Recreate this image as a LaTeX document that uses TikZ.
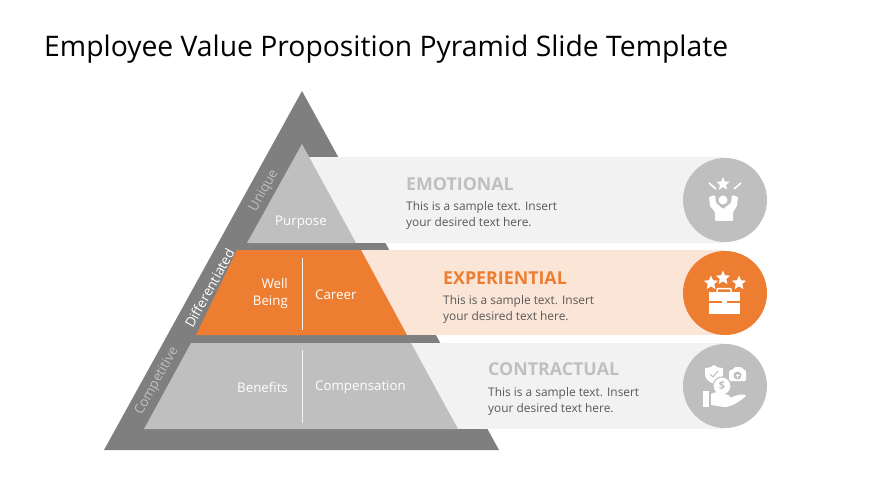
\documentclass[tikz,border=0pt]{standalone}
\usepackage{fontspec}
\setmainfont{Open Sans}
\usetikzlibrary{calc,positioning,shapes.geometric}

\definecolor{darkgray}{HTML}{7F7F7F}
\definecolor{midgray}{HTML}{BFBFBF}
\definecolor{palegray}{HTML}{F2F2F2}
\definecolor{accent}{HTML}{ED7D31}
\definecolor{paleaccent}{HTML}{FBE5D6}
\definecolor{bodytext}{HTML}{595959}

\tikzset{
    badge/.style={circle, minimum size=84pt, inner sep=0pt},
    head/.style={font=\fontsize{17.8}{19}\selectfont\bfseries, anchor=west, inner sep=0pt},
    body/.style={font=\fontsize{11.9}{16}\selectfont, text=bodytext, anchor=north west, align=left, inner sep=0pt},
    level/.style={font=\fontsize{13.3}{17}\selectfont, text=white, inner sep=0pt},
    side/.style={font=\fontsize{13.5}{15}\selectfont, text=midgray, rotate=61, inner sep=0pt},
    divider/.style={white!85!midgray, line width=.7pt},
    whitestar/.style={star, star points=5, star point ratio=2.2, fill=white, inner sep=0pt, minimum size=#1},
}

\begin{document}
\begin{tikzpicture}[x=1pt, y=-1pt]

    \useasboundingbox (0,0) rectangle (870,489);

    \node[anchor=west, inner sep=0pt, font=\fontsize{28.3}{30}\selectfont] (title) at (44,49) {Employee Value Proposition Pyramid Slide Template};

    % pyramid and bands
    \fill[darkgray] (302,91) -- (499,450) -- (104,450) -- cycle;
    \fill[palegray]   (300,157) rectangle (725,243);
    \fill[paleaccent] (350,250) rectangle (725,335);
    \fill[palegray]   (400,343) rectangle (725,429);
    \fill[midgray] (302,144) -- (356,243) -- (247,243) -- cycle;
    \fill[accent]  (237,250) -- (361,250) -- (407,335) -- (196,335) -- cycle;
    \fill[midgray] (191,343) -- (411,343) -- (458,429) -- (144,429) -- cycle;

    \coordinate (wellTop)  at (302,258);
    \coordinate (wellEnd)  at (302,330);
    \coordinate (compTop)  at (302,350);
    \coordinate (compEnd)  at (302,423);
    \draw[divider] (wellTop) -- (wellEnd);
    \draw[divider] (compTop) -- (compEnd);

    \node[level]              (purpose) at (301,222)  {Purpose};
    \node[level, align=right, anchor=east] (well) at (288,294) {Well\\Being};
    \node[level, anchor=west] (career)  at (315,294.5)  {Career};
    \node[level, anchor=east] (benefit) at (288,387.5)  {Benefits};
    \node[level, anchor=west] (comp)    at (315,387.5)  {Compensation};

    \node[side] (unique) at (264,191) {Unique};
    \node[side, text=white] (diff) at (209.5,288) {Differentiated};
    \node[side] (compet) at (157,381) {Competitive};

    % text of the bands
    \node[head, text=midgray] (emo) at (406,184) {EMOTIONAL};
    \node[body] (emotext) at (406,201) {This is a sample text. Insert\\your desired text here.};
    \node[head, text=accent] (exp) at (443,278) {EXPERIENTIAL};
    \node[body] (exptext) at (443,295) {This is a sample text. Insert\\your desired text here.};
    \node[head, text=midgray] (con) at (488,369) {CONTRACTUAL};
    \node[body] (context) at (488,387) {This is a sample text. Insert\\your desired text here.};

    \node[badge, fill=midgray] (emoicon) at (725,200) {};
    \node[badge, fill=accent]  (expicon) at (725,293) {};
    \node[badge, fill=midgray] (conicon) at (725,386) {};

    % emotional icon
    \node[whitestar=14pt] (emostar) at (723,184) {};
    \draw[white, line width=1.6pt] (709,183) -- (716,189) (741,183) -- (734,189);
    \fill[white, rounded corners=1pt] (709,197) -- (715,195) -- (716,203) -- (723,209) -- (731,203) -- (732,195) -- (738,197)
        -- (737,206) -- (733,212) -- (733,221) -- (715,221) -- (715,212) -- (710,206) -- cycle;
    \fill[white] (723,200) circle (4.5);

    % experiential icon
    \foreach \x/\y/\name in {711/283/a, 723/278/b, 739/283/c}
        \node[whitestar=15pt] (star\name) at (\x,\y) {};
    \draw[white, line width=1.5pt, rounded corners=1pt] (717,293) -- (717,288.5) -- (731,288.5) -- (731,293);
    \fill[white] (709,292) rectangle (740,300.5);
    \fill[white] (709,303) rectangle (740,314);
    \fill[white] (722,300) rectangle (727,305);

    % contractual icon
    \fill[white] (714,365) .. controls (718,368) and (720,368) .. (723,368) -- (723,374) .. controls (723,379) and (719,382) .. (714,384)
        .. controls (709,382) and (705,379) .. (705,374) -- (705,368) .. controls (708,368) and (710,368) .. (714,365) -- cycle;
    \draw[midgray, line width=1pt] (710,374) -- (713,377) -- (718,371);
    \fill[white, rounded corners=1.5pt] (729,370) -- (733,370) -- (734,367) -- (742,367) -- (743,370) -- (746,370) -- (746,381) -- (729,381) -- cycle;
    \fill[midgray] (737.5,375.5) circle (4);
    \draw[white, line width=.9pt] (735.5,375.5) -- (739.5,375.5) (737.5,373.5) -- (737.5,377.5);
    \node[circle, fill=white, draw=midgray, line width=1pt, minimum size=18pt, inner sep=0pt, text=midgray, font=\fontsize{11}{11}\selectfont\bfseries] (coin) at (722,386) {\$};
    \fill[white] (703,391) rectangle (709,407);
    \fill[white] (711,394) .. controls (716,390) and (722,394) .. (728,395) .. controls (731,396) and (731,399) .. (727,399)
        -- (735,396) .. controls (740,394) and (745,394) .. (746,396) .. controls (740,401) and (732,407) .. (724,407) -- (711,405) -- cycle;

\end{tikzpicture}
\end{document}
